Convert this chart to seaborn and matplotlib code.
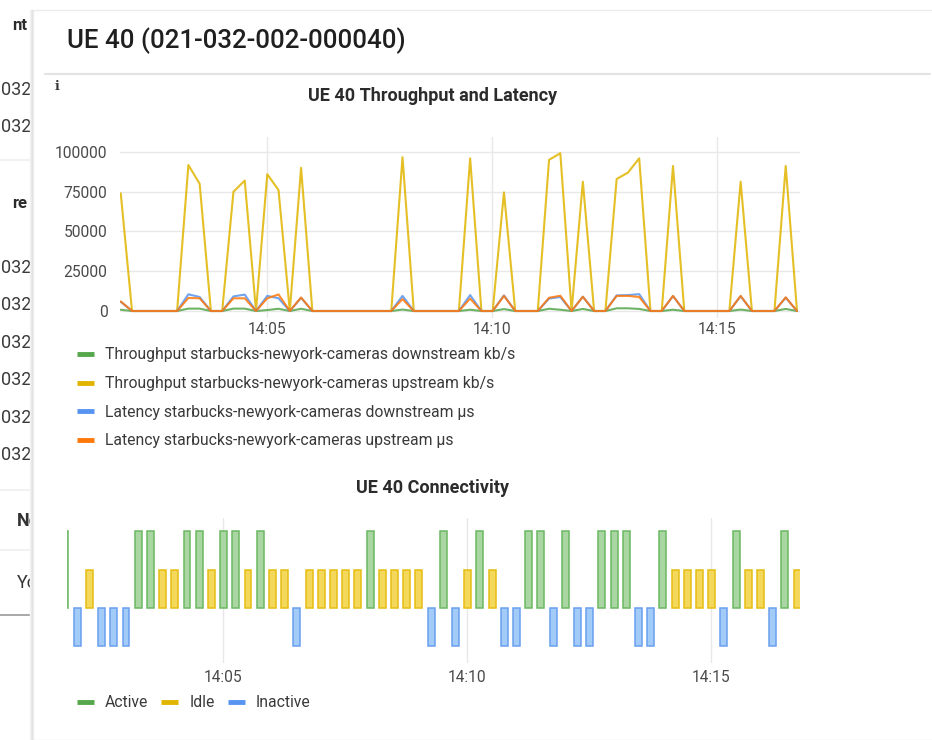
import matplotlib
matplotlib.use("Agg")
import matplotlib.pyplot as plt
import matplotlib.dates as mdates
from matplotlib.lines import Line2D
from matplotlib.patches import Rectangle
import seaborn as sns
import pandas as pd

W, H = 932, 740

# sampling of the panel (one point every 15 s)
start_time = "2023-01-01 14:01:46"
n_points = 61
step = "15s"

# throughput / latency series
tput_down = [800, 0, 0, 0, 0, 0, 1500, 1500, 0, 0, 1500, 1500, 0, 600, 1400, 0,
             1400, 0, 0, 0, 0, 0, 0, 0, 0, 900, 0, 0, 0, 0, 0, 800, 0, 0, 1200, 0,
             0, 0, 1400, 800, 0, 1300, 0, 0, 1700, 1700, 1300, 0, 0, 800, 0, 0, 0,
             0, 0, 900, 0, 0, 0, 1300, 0]
tput_up = [74000, 0, 0, 0, 0, 0, 91800, 80000, 0, 0, 75000, 82000, 0, 86000, 76000, 0,
           90000, 0, 0, 0, 0, 0, 0, 0, 0, 96700, 0, 0, 0, 0, 0, 96000, 0, 0, 74600, 0,
           0, 0, 95000, 99200, 0, 81300, 0, 0, 83000, 87000, 96000, 0, 0, 91200, 0, 0, 0,
           0, 0, 81300, 0, 0, 0, 91200, 0]
lat_down = [5800, 0, 0, 0, 0, 0, 10500, 8800, 0, 0, 9200, 10300, 0, 9500, 8000, 0,
            8300, 0, 0, 0, 0, 0, 0, 0, 0, 9500, 0, 0, 0, 0, 0, 10000, 0, 0, 9800, 0,
            0, 0, 7800, 8800, 0, 9000, 0, 0, 9800, 10000, 10600, 0, 0, 9400, 0, 0, 0,
            0, 0, 9300, 0, 0, 0, 8400, 0]
lat_up = [6000, 0, 0, 0, 0, 0, 8200, 8000, 0, 0, 8000, 8000, 0, 8000, 10400, 0,
          8500, 0, 0, 0, 0, 0, 0, 0, 0, 7500, 0, 0, 0, 0, 0, 7800, 0, 0, 9500, 0,
          0, 0, 8300, 9600, 0, 9000, 0, 0, 9500, 9500, 8800, 0, 0, 9500, 0, 0, 0,
          0, 0, 9500, 0, 0, 0, 8600, 0]

series_names = [
    "Throughput starbucks-newyork-cameras downstream kb/s",
    "Throughput starbucks-newyork-cameras upstream kb/s",
    "Latency starbucks-newyork-cameras downstream \u03bcs",
    "Latency starbucks-newyork-cameras upstream \u03bcs",
]

# connectivity state per sample
states = ["Active", "Inactive", "Idle", "Inactive", "Inactive", "Inactive", "Active", "Active",
          "Idle", "Idle", "Active", "Active", "Idle", "Active", "Active", "Idle", "Active",
          "Idle", "Idle", "Inactive", "Idle", "Idle", "Idle", "Idle", "Idle", "Active",
          "Idle", "Idle", "Idle", "Idle", "Inactive", "Active", "Inactive", "Idle", "Active",
          "Idle", "Inactive", "Inactive", "Active", "Active", "Inactive", "Active", "Inactive",
          "Inactive", "Active", "Active", "Active", "Inactive", "Inactive", "Active", "Idle",
          "Idle", "Idle", "Idle", "Inactive", "Active", "Idle", "Idle", "Inactive", "Active",
          "Idle"]
state_order = ["Active", "Idle", "Inactive"]
state_level = {"Active": 2, "Idle": 1, "Inactive": -1}

line_colors = ["#56A64B", "#E0B400", "#5794F2", "#FF780A"]
state_colors = {"Active": "#56A64B", "Idle": "#E0B400", "Inactive": "#5794F2"}
state_fill = {"Active": "#a9d6a2", "Idle": "#f4d85c", "Inactive": "#a3cbf7"}
state_edge = {"Active": "#6cb862", "Idle": "#e6bd12", "Inactive": "#6a9ff0"}


def px_axes(fig, left, top, right, bottom):
    return fig.add_axes([left / W, 1 - bottom / H, (right - left) / W, (bottom - top) / H])


def fx(x):
    return x / W


def fy(y):
    return 1 - y / H


sns.set_style("white")
plt.rcParams["font.family"] = ["Roboto", "DejaVu Sans"]

times = pd.date_range(start=start_time, periods=n_points, freq=step)
tnum = mdates.date2num(times.to_pydatetime())

line_df = pd.concat([
    pd.DataFrame({"t": tnum, "value": vals, "series": name})
    for name, vals in zip(series_names, [tput_down, tput_up, lat_down, lat_up])
], ignore_index=True)

bar_df = pd.DataFrame({"t": tnum, "state": states,
                       "level": [state_level[s] for s in states]})

fig = plt.figure(figsize=(W / 100, H / 100), dpi=100, facecolor="white")

# --- page behind the panel (cut off on the left) ---
txt = "#2b2b2b"
fig.text(fx(12), fy(25), "nt", fontsize=12, fontweight="bold", color=txt, va="center", zorder=0)
fig.text(fx(12), fy(203), "re", fontsize=12, fontweight="bold", color=txt, va="center", zorder=0)
for y in [90, 127, 268, 305, 343, 380, 418, 455]:
    fig.text(fx(31), fy(y), "032", fontsize=13, color="#3a3a3a", ha="right", va="center", zorder=0)
fig.text(fx(17), fy(521), "Ne", fontsize=13, fontweight="bold", color="#333333", va="center", zorder=0)
fig.text(fx(17), fy(583), "Yo", fontsize=13, color="#333333", va="center", zorder=0)
for y, c in [(160, "#efefef"), (490, "#efefef"), (550, "#efefef"), (615, "#9a9a9a")]:
    fig.add_artist(Line2D([0, fx(34)], [fy(y), fy(y)], color=c, lw=1.2, zorder=0))

# panel with soft shadow
for i, c in enumerate(["#f4f4f4", "#ebebeb", "#e2e2e2"]):
    fig.add_artist(Rectangle((fx(30 + i), 0), fx(1.2), fy(10), color=c, zorder=1))
fig.add_artist(Rectangle((fx(33), 0), 1, fy(10), facecolor="white", edgecolor="#ececec",
                         lw=1, zorder=1))
fig.add_artist(Line2D([fx(45), fx(930)], [fy(74), fy(74)], color="#e3e3e3", lw=1.5, zorder=1))

fig.text(fx(67), fy(41), "UE 40 (021-032-002-000040)", fontsize=18.6, fontweight=500,
         color="#1f1f1f", va="center", zorder=5)
fig.text(fx(55), fy(87), "i", fontsize=9, fontweight="bold", family="DejaVu Serif",
         color="#333333", va="center", zorder=5)

tick_color = "#4a4a4a"
tick_size = 11.2
minute_fmt = mdates.DateFormatter("%H:%M")
five_min = mdates.MinuteLocator(byminute=range(0, 60, 5))

# --- throughput and latency ---
ax1 = px_axes(fig, 120, 137, 800, 318)
ax1.set_zorder(2)
ax1.patch.set_alpha(0)
sns.lineplot(data=line_df, x="t", y="value", hue="series", hue_order=series_names,
             palette=line_colors, linewidth=1.5, alpha=0.85, legend=False, ax=ax1)
ax1.set_xlim(mdates.date2num(pd.Timestamp("2023-01-01 14:01:45")),
             mdates.date2num(pd.Timestamp("2023-01-01 14:16:50")))
ax1.set_ylim(-4400, 109400)
ax1.set_yticks([0, 25000, 50000, 75000, 100000])
ax1.xaxis.set_major_locator(five_min)
ax1.xaxis.set_major_formatter(minute_fmt)
ax1.grid(True, color="#e8e8e8", lw=1)
ax1.tick_params(length=0, labelsize=tick_size, labelcolor=tick_color)
ax1.tick_params(axis="y", pad=9)
ax1.tick_params(axis="x", pad=3)
ax1.set_xlabel("")
ax1.set_ylabel("")
sns.despine(ax=ax1, left=True, bottom=True)
fig.text(fx(433), fy(96), "UE 40 Throughput and Latency", fontsize=13, fontweight="bold",
         color="#2b2b2b", ha="center", va="center", zorder=5)

leg_size = 11.3
line_handles = [Line2D([], [], color=c, lw=3.5, solid_capstyle="butt") for c in line_colors]
leg1 = fig.legend(line_handles, series_names, loc="upper left",
                  bbox_to_anchor=(fx(77), fy(347.5)), frameon=False, fontsize=leg_size,
                  labelcolor="#3a3a3a", handlelength=1.08, handletextpad=0.7,
                  labelspacing=0.87, borderaxespad=0, borderpad=0)
leg1.set_zorder(5)

# --- connectivity ---
ax2 = px_axes(fig, 67, 518, 800, 663)
ax2.set_zorder(2)
ax2.patch.set_alpha(0)
sns.barplot(data=bar_df, x="t", y="level", hue="state", hue_order=state_order,
            palette=state_colors, native_scale=True, width=0.57, errorbar=None,
            legend=False, ax=ax2)
for patch in ax2.patches:
    h = patch.get_height()
    st = "Active" if h > 1.5 else ("Idle" if h > 0 else "Inactive")
    patch.set_facecolor(state_fill[st])
    patch.set_edgecolor(state_edge[st])
    patch.set_linewidth(1.1)
ax2.set_xlim(mdates.date2num(pd.Timestamp("2023-01-01 14:01:48.5")),
             mdates.date2num(pd.Timestamp("2023-01-01 14:16:49.5")))
ax2.set_ylim(-1.45, 2.35)
ax2.set_yticks([])
ax2.xaxis.set_major_locator(five_min)
ax2.xaxis.set_major_formatter(minute_fmt)
ax2.grid(True, axis="x", color="#e8e8e8", lw=1)
ax2.set_axisbelow(True)
ax2.tick_params(length=0, labelsize=tick_size, labelcolor=tick_color, pad=5)
ax2.set_xlabel("")
ax2.set_ylabel("")
sns.despine(ax=ax2, left=True, bottom=True)
fig.text(fx(433), fy(488), "UE 40 Connectivity", fontsize=13, fontweight="bold",
         color="#2b2b2b", ha="center", va="center", zorder=5)

state_handles = [Line2D([], [], color=state_colors[s], lw=3.5, solid_capstyle="butt")
                 for s in state_order]
leg2 = fig.legend(state_handles, state_order, loc="upper left", ncol=3,
                  bbox_to_anchor=(fx(77), fy(695)), frameon=False, fontsize=leg_size,
                  labelcolor="#3a3a3a", handlelength=1.08, handletextpad=0.7,
                  columnspacing=0.83, borderaxespad=0, borderpad=0)
leg2.set_zorder(5)

fig.savefig("out.png", dpi=100, facecolor="white")
